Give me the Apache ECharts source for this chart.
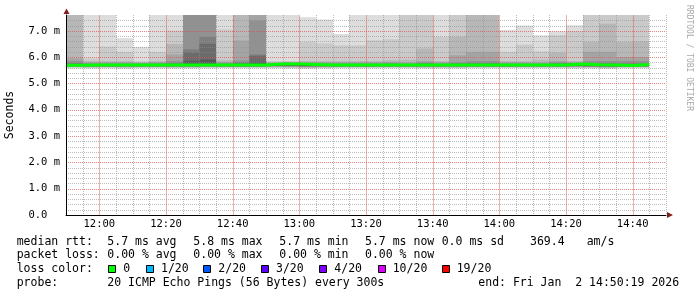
<!DOCTYPE html>
<html><head><meta charset="utf-8">
<script src="https://cdn.jsdelivr.net/npm/echarts@6/dist/echarts.min.js"></script>
<style>html,body{margin:0;padding:0;background:#fff}#c{width:697px;height:297px}</style>
</head><body><div id="c"></div>
<script>
// 5-minute bins (start times)
const binStarts = ['11:50','11:55','12:00','12:05','12:10','12:15','12:20','12:25','12:30','12:35',
  '12:40','12:45','12:50','12:55','13:00','13:05','13:10','13:15','13:20','13:25',
  '13:30','13:35','13:40','13:45','13:50','13:55','14:00','14:05','14:10','14:15',
  '14:20','14:25','14:30','14:35','14:40'];
const binMinutes = 5;
// sorted ping rtt values (ms) per bin, upper half (p20 = slowest)
const p20 = [7.6,7.6,7.6,6.72,6.39,7.6,7.6,7.6,7.6,7.6,7.6,7.6,7.6,7.6,7.51,7.43,6.88,7.6,7.6,7.6,7.6,7.6,7.6,7.6,7.6,7.6,7.03,7.2,6.83,6.98,7.21,7.6,7.6,7.6,7.6];
const p19 = [7.6,5.95,6.4,6.2,5.85,6.2,7.01,7.6,7.6,7.05,7.6,7.6,5.85,5.85,6.58,6.52,6.45,6.45,6.64,6.68,7.6,7.6,6.77,7.6,7.6,7.6,6.2,6.48,6.22,6.83,6.99,7.6,7.6,7.6,7.6];
const p18 = [7.6,5.85,5.85,5.85,5.8,5.85,6.5,7.6,7.6,5.88,7.6,7.6,5.8,5.82,5.85,5.85,5.85,5.85,5.85,5.88,5.9,6.33,5.85,6.77,7.6,7.6,5.85,5.85,5.9,6.17,5.85,6.58,7.27,6.58,6.6];
const p17 = [5.95,5.8,5.8,5.8,5.78,5.8,6.1,7.6,7.6,5.82,6.63,7.6,5.78,5.8,5.8,5.8,5.8,5.8,5.8,5.82,5.8,5.85,5.8,6.07,6.2,6.2,5.8,5.8,5.8,5.85,5.8,6.2,6.2,6.0,6.0];
const p16 = [5.85,5.76,5.76,5.76,5.76,5.78,5.85,7.6,7.6,5.78,5.87,7.39,5.76,5.78,5.76,5.76,5.76,5.76,5.76,5.78,5.76,5.8,5.76,5.8,5.85,5.85,5.76,5.76,5.76,5.8,5.76,5.85,5.85,5.85,5.85];
const p15 = [5.78,5.74,5.74,5.74,5.74,5.74,5.78,6.3,6.77,5.74,5.8,6.1,5.74,5.76,5.74,5.74,5.74,5.74,5.74,5.74,5.74,5.76,5.74,5.76,5.78,5.78,5.74,5.74,5.74,5.76,5.76,5.78,5.78,5.76,5.76];
const p14 = [5.74,5.73,5.73,5.73,5.73,5.73,5.74,6.19,6.5,5.73,5.76,6.05,5.74,5.75,5.73,5.73,5.73,5.73,5.73,5.73,5.73,5.74,5.73,5.74,5.74,5.74,5.73,5.73,5.73,5.74,5.75,5.74,5.74,5.73,5.74];
const p13 = [5.72,5.72,5.72,5.72,5.72,5.72,5.72,5.85,5.9,5.72,5.74,5.8,5.73,5.74,5.72,5.72,5.72,5.72,5.72,5.72,5.72,5.72,5.72,5.72,5.72,5.72,5.72,5.72,5.72,5.72,5.74,5.72,5.72,5.71,5.73];
// lower half (p1 = fastest)
const p1 = [5.57,5.56,5.57,5.55,5.57,5.57,5.56,5.56,5.57,5.58,5.57,5.57,5.57,5.56,5.55,5.56,5.57,5.57,5.57,5.57,5.57,5.56,5.56,5.56,5.57,5.57,5.58,5.57,5.57,5.57,5.56,5.56,5.55,5.57,5.57];
const p2 = [5.6,5.59,5.6,5.59,5.6,5.6,5.59,5.59,5.6,5.6,5.6,5.6,5.6,5.59,5.58,5.59,5.6,5.6,5.6,5.6,5.6,5.59,5.59,5.59,5.6,5.6,5.6,5.6,5.6,5.6,5.59,5.59,5.58,5.6,5.6];
const p3 = [5.62,5.61,5.62,5.61,5.62,5.62,5.61,5.61,5.62,5.62,5.62,5.62,5.62,5.61,5.6,5.61,5.62,5.62,5.62,5.62,5.62,5.61,5.61,5.61,5.62,5.62,5.62,5.62,5.62,5.62,5.61,5.61,5.6,5.62,5.62];
const p4 = [5.63,5.63,5.63,5.63,5.63,5.63,5.63,5.63,5.63,5.63,5.63,5.63,5.64,5.63,5.62,5.63,5.63,5.63,5.63,5.63,5.63,5.63,5.63,5.63,5.63,5.63,5.63,5.63,5.63,5.63,5.63,5.62,5.62,5.63,5.63];
const p5 = [5.64,5.64,5.64,5.64,5.64,5.64,5.64,5.64,5.64,5.64,5.64,5.64,5.65,5.64,5.63,5.64,5.64,5.64,5.64,5.64,5.64,5.64,5.64,5.64,5.64,5.64,5.64,5.64,5.64,5.64,5.64,5.63,5.63,5.64,5.64];
const p6 = [5.65,5.65,5.65,5.65,5.65,5.65,5.65,5.65,5.65,5.65,5.65,5.65,5.66,5.66,5.65,5.65,5.65,5.65,5.65,5.65,5.65,5.65,5.65,5.65,5.65,5.65,5.65,5.65,5.65,5.65,5.66,5.65,5.64,5.65,5.65];
const p7 = [5.66,5.66,5.66,5.66,5.66,5.66,5.66,5.66,5.66,5.66,5.66,5.66,5.67,5.67,5.66,5.66,5.66,5.66,5.66,5.66,5.66,5.66,5.66,5.66,5.66,5.66,5.66,5.66,5.66,5.66,5.67,5.66,5.65,5.65,5.66];
const p8 = [5.67,5.67,5.67,5.67,5.67,5.67,5.67,5.67,5.67,5.67,5.67,5.67,5.68,5.68,5.67,5.67,5.67,5.67,5.67,5.67,5.67,5.67,5.67,5.67,5.67,5.67,5.67,5.67,5.67,5.67,5.68,5.67,5.66,5.66,5.67];
const median = [5.69,5.7,5.7,5.7,5.7,5.7,5.7,5.7,5.7,5.7,5.7,5.7,5.74,5.74,5.72,5.7,5.7,5.7,5.7,5.7,5.7,5.7,5.7,5.7,5.7,5.7,5.7,5.7,5.7,5.7,5.74,5.71,5.7,5.68,5.72];
// axis ticks
const xTickLabels = ['12:00','12:20','12:40','13:00','13:20','13:40','14:00','14:20','14:40'];
const yTickValues = [0,1,2,3,4,5,6,7];
const yTickLabels = ['0.0  ','1.0 m','2.0 m','3.0 m','4.0 m','5.0 m','6.0 m','7.0 m'];
const axisStart = '11:50', axisEnd = '14:50';
const yMax = 7.6, xMinorStep = 5, yMinorStep = 0.2;
// legend texts
const statRows = [
  {label:'median rtt:', items:['5.7 ms avg','5.8 ms max','5.7 ms min','5.7 ms now','0.0 ms sd','369.4','am/s']},
  {label:'packet loss:', items:['0.00 % avg','0.00 % max','0.00 % min','0.00 % now']}
];
const lossLabels = ['0','1/20','2/20','3/20','4/20','10/20','19/20'];
const lossColors = ['#00ff00','#00b8ff','#0059ff','#5e00ff','#7e00ff','#dd00ff','#ff0000'];
const probeText = '20 ICMP Echo Pings (56 Bytes) every 300s';
const endText = 'end: Fri Jan  2 14:50:19 2026';

const toMin = s => { const [h,m] = s.split(':').map(Number); return h*60+m; };
const starts = binStarts.map(toMin);
const xTickValues = xTickLabels.map(toMin);
const xMin = toMin(axisStart), xMax = toMin(axisEnd);
const MGRID = 'rgba(222,79,79,0.7)';
const MGRID_V = 'rgba(222,79,79,0.45)';
const GRID = 'rgba(143,143,143,0.6)';

const bandPairs = [[p1,p20,'#dddddd'],[p2,p19,'#cacaca'],[p3,p18,'#b7b7b7'],[p4,p17,'#a4a4a4'],
                   [p5,p16,'#919191'],[p6,p15,'#7e7e7e'],[p7,p14,'#6b6b6b'],[p8,p13,'#585858']];
const series = bandPairs.map(([lo,hi,color]) => ({
  type:'custom', clip:true, z:2, silent:true, animation:false,
  data: lo.map((l,i)=>[starts[i], starts[i]+binMinutes, l, hi[i]]),
  encode:{x:[0,1], y:[2,3]},
  renderItem:(params, api) => {
    const a = api.coord([api.value(0), api.value(3)]);
    const b = api.coord([api.value(1), api.value(2)]);
    const x0 = Math.round(a[0]), x1 = Math.round(b[0]);
    return {type:'rect', shape:{x:x0, y:a[1], width:x1-x0, height:b[1]-a[1]}, style:{fill:color}};
  }
}));
// grid lines drawn above the smoke: [x, y, vertical?1:0]
const isXMajor = v => xTickValues.some(t => Math.abs(t - v) < 1e-6);
const isYMajor = v => yTickValues.some(t => Math.abs(t - v) < 1e-6);
const gridItems = [];
for (let k = 0; xMin + k*xMinorStep <= xMax; k++) gridItems.push([xMin + k*xMinorStep, 0, 1]);
for (let k = 1; k*yMinorStep < yMax - 1e-9; k++) gridItems.push([xMin, +(k*yMinorStep).toFixed(2), 0]);
series.push({type:'custom', z:5, silent:true, animation:false, clip:false,
  data: gridItems, encode:{x:0, y:1},
  renderItem:(params, api) => {
    const cs = params.coordSys;
    const xv = api.value(0), yv = api.value(1);
    const p = api.coord([xv, yv]);
    if (api.value(2) === 1) {
      const x = Math.round(p[0]) + 0.5;
      const major = isXMajor(xv);
      return {type:'line', shape:{x1:x, y1:cs.y, x2:x, y2:cs.y+cs.height},
        style: major ? {stroke:MGRID_V, lineWidth:1} : {stroke:GRID, lineWidth:1, lineDash:[1,1]}};
    }
    const y = Math.round(p[1]) + 0.5;
    return {type:'line', shape:{x1:cs.x, y1:y, x2:cs.x+cs.width, y2:y},
      style:{stroke: isYMajor(yv) ? MGRID : GRID, lineWidth:1, lineDash:[1,1]}};
  }});
const medData = median.map((v,i)=>[starts[i], v]);
medData.push([starts[starts.length-1]+binMinutes, median[median.length-1]]);
series.push({type:'line', step:'end', data:medData, symbol:'none', z:6, animation:false, silent:true,
  lineStyle:{color:'#00ff00', width:3}});

const mono = 'DejaVu Sans Mono';
const graphic = [];
const txt = (x,y,t) => graphic.push({type:'text', x, y, silent:true,
  style:{text:t, fill:'#000', font:'11.5px "'+mono+'"', verticalAlign:'middle'}});
const rowY = [241.7, 255.3, 269.3, 282.7];
const col1X = [107.3, 193.3, 279.3, 365, 441.7, 530, 586.7];
statRows.forEach((r,ri) => {
  txt(16.7, rowY[ri], r.label);
  r.items.forEach((it,k) => txt(col1X[k], rowY[ri], it));
});
txt(16.7, rowY[2], 'loss color:');
const boxX = [108.3, 146, 203.3, 261, 319.3, 377.7, 441.7];
lossLabels.forEach((l,k) => {
  graphic.push({type:'rect', silent:true, shape:{x:Math.round(boxX[k])+0.5, y:265.5, width:7, height:7},
    style:{fill:lossColors[k], stroke:'#000', lineWidth:1}});
  txt(boxX[k]+15, rowY[2], l);
});
txt(16.7, rowY[3], 'probe:');
txt(107.3, rowY[3], probeText);
txt(478.3, rowY[3], endText);
// watermark
graphic.push({type:'text', x:689, y:5, rotation:-Math.PI/2, silent:true,
  style:{text:'RRDTOOL / TOBI OETIKER', fill:'#a8a8a8', font:'8px "'+mono+'"', verticalAlign:'middle'}});
// axis arrows
graphic.push({type:'polygon', silent:true, shape:{points:[[63.5,14],[69.5,14],[66.5,8.5]]}, style:{fill:'#801f1f'}});
graphic.push({type:'polygon', silent:true, shape:{points:[[667,212],[667,218],[673,215]]}, style:{fill:'#801f1f'}});

const chart = echarts.init(document.getElementById('c'), null, {renderer:'canvas'});
chart.setOption({
  animation:false,
  backgroundColor:'#ffffff',
  grid:{left:66, right:31, top:15, bottom:82, containLabel:false, outerBoundsMode:'none'},
  xAxis:{type:'value', min:xMin, max:xMax, interval:xMinorStep, z:7,
    axisLine:{show:true, lineStyle:{color:'#000', width:1}},
    axisTick:{show:false}, splitLine:{show:false},
    axisLabel:{margin:4, color:'#000', fontFamily:mono, fontSize:10.5,
      formatter:v => { const k = xTickValues.indexOf(v); return k>=0 ? xTickLabels[k] : ''; }}},
  yAxis:{type:'value', min:0, max:yMax, interval:yMinorStep, z:7,
    name:'Seconds', nameLocation:'middle', nameGap:50, nameRotate:90,
    nameTextStyle:{fontFamily:mono, fontSize:11.5, color:'#000'},
    axisLine:{show:true, lineStyle:{color:'#000', width:1}},
    axisTick:{show:false}, splitLine:{show:false},
    axisLabel:{margin:6, color:'#000', fontFamily:mono, fontSize:10.5, showMaxLabel:false,
      formatter:v => { const k = yTickValues.findIndex(t=>Math.abs(t-v)<1e-6); return k>=0 ? yTickLabels[k] : ''; }}},
  series,
  graphic
});
</script></body></html>
